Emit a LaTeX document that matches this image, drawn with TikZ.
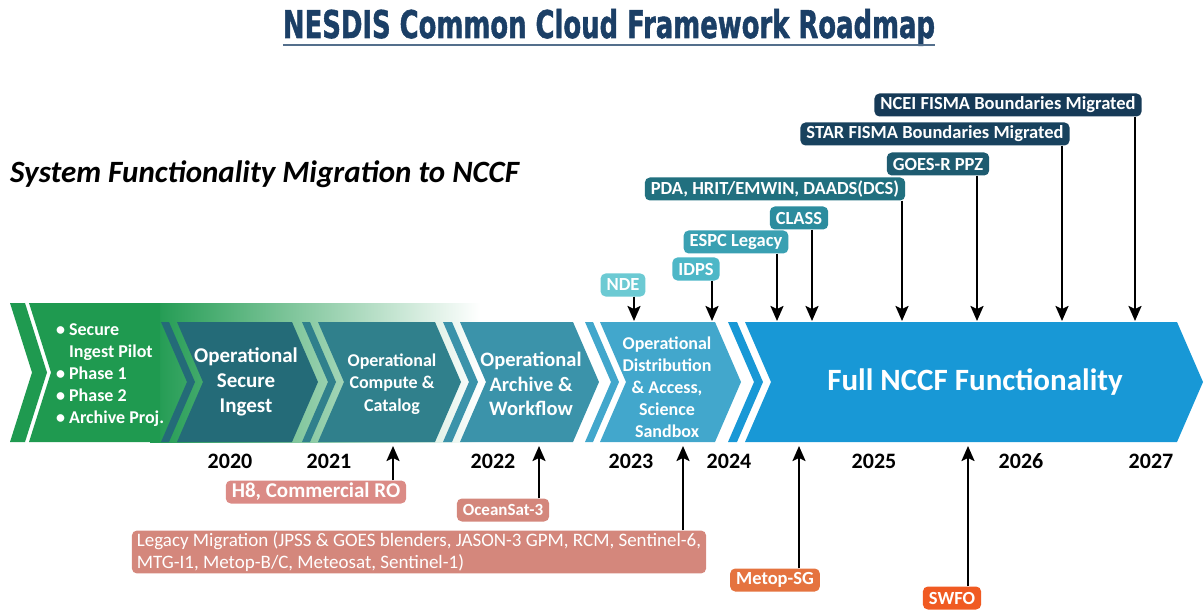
\documentclass[tikz,border=0pt]{standalone}
\usepackage{fontspec}
\usepackage{graphicx}
\setmainfont{Carlito}
\newfontfamily\headfont[BoldFeatures={FakeBold=1.5}]{DejaVu Sans Condensed}
\usetikzlibrary{arrows.meta, positioning}

\definecolor{titleblue}{HTML}{1B3F66}
\definecolor{stageone}{HTML}{1F9A50}
\definecolor{stagetwo}{HTML}{246B78}
\definecolor{stagethree}{HTML}{30808C}
\definecolor{stagefour}{HTML}{3B93AA}
\definecolor{stagefive}{HTML}{42A7CC}
\definecolor{stagesix}{HTML}{1898D6}
\definecolor{tagnde}{HTML}{6CCAD3}
\definecolor{tagidps}{HTML}{4DB7C7}
\definecolor{tagespc}{HTML}{3AA0B2}
\definecolor{tagclass}{HTML}{2C8C9E}
\definecolor{tagpda}{HTML}{21707F}
\definecolor{taggoes}{HTML}{1E5B70}
\definecolor{tagstar}{HTML}{18425E}
\definecolor{tagncei}{HTML}{163A57}
\definecolor{tagpink}{HTML}{DB8B86}
\definecolor{tagsalmon}{HTML}{D4877C}
\definecolor{tagorange}{HTML}{E5733F}
\definecolor{tagred}{HTML}{F05A22}

\begin{document}
\begin{tikzpicture}[x=1pt, y=-1pt,
    tag/.style={rounded corners=5pt, text=white, inner xsep=6pt, inner ysep=2pt, minimum height=23pt,
      font=\fontsize{18.5}{18.5}\selectfont\bfseries},
    stagetext/.style={text=white, align=center},
    yearlbl/.style={font=\fontsize{22}{22}\selectfont\bfseries},
    pin/.style={line width=2.2pt, -{Stealth[length=15pt, width=13pt, inset=3pt]}}]
  \useasboundingbox (0,0) rectangle (1204,612);
  \newcommand\chevron[3]{\fill[#3] (#1,322) -- (#2,322) -- ({#2+26},382) -- (#2,442) -- (#1,442) -- ({#1+26},382) -- cycle;}

  % title
  \node[anchor=base, inner sep=0, text=titleblue] (title) at (609,38)
    {\resizebox{652pt}{29pt}{\headfont\bfseries NESDIS Common Cloud Framework Roadmap}};
  \draw[titleblue!75, line width=1.5pt] ([yshift=-7pt]title.base west) -- ([yshift=-7pt]title.base east);

  \node[anchor=west, inner sep=0, font=\fontsize{31}{31}\selectfont\bfseries\itshape] (subtitle) at (10,174)
    {System Functionality Migration to NCCF};

  % green start, fading out to the right
  \shade[left color=stageone, right color=white] (150,303) rectangle (480,442);
  \fill[stageone] (29,303) -- (160,303) -- (160,442) -- (29,442) -- (51,372.5) -- cycle;
  \fill[stageone] (10,303) -- (25,303) -- (47,372.5) -- (25,442) -- (10,442) -- (32,372.5) -- cycle;

  % stripe + body for each stage
  \foreach \sa/\sb/\ba/\bb/\col in {161/169/177/292/stagetwo, 302/310/318/435/stagethree,
      443/452/460/573/stagefour, 585/593/600/715/stagefive, 728/737/745/1177/stagesix}{
    \chevron{\sa}{\sb}{\col}
    \chevron{\ba}{\bb}{\col}
  }

  \node[anchor=west, text=white, inner sep=0, font=\fontsize{18}{22}\selectfont\bfseries] (s1) at (56,375)
    {\begin{tabular}{@{}l@{\hspace{4pt}}l@{}}\textbullet & Secure\\ & Ingest Pilot\\ \textbullet & Phase 1\\
      \textbullet & Phase 2\\ \textbullet & Archive Proj.\end{tabular}};
  \node[stagetext, font=\fontsize{21}{25}\selectfont\bfseries] (s2) at (246,382) {Operational\\Secure\\Ingest};
  \node[stagetext, font=\fontsize{18}{22.5}\selectfont\bfseries] (s3) at (392,384) {Operational\\Compute \&\\Catalog};
  \node[stagetext, font=\fontsize{20.5}{24.5}\selectfont\bfseries] (s4) at (531,384) {Operational\\Archive \&\\Workflow};
  \node[stagetext, font=\fontsize{18}{22}\selectfont\bfseries] (s5) at (667,387)
    {Operational\\Distribution\\\& Access,\\Science\\Sandbox};
  \node[stagetext, font=\fontsize{31}{31}\selectfont\bfseries] (s6) at (975,382) {Full NCCF Functionality};

  % years under the band
  \foreach \yr/\px in {2020/230, 2021/329, 2022/493, 2023/631, 2024/729, 2025/874, 2026/1021, 2027/1151}{
    \node[yearlbl] (y\yr) at (\px,461) {\yr};
  }

  % systems moving in from above
  \foreach \name/\px/\py/\txt/\col/\ax in {nde/623/285/NDE/tagnde/634, idps/696/269/IDPS/tagidps/712,
      espc/736/242/ESPC Legacy/tagespc/777, class/799/218/CLASS/tagclass/812,
      pda/775/189/{PDA, HRIT/EMWIN, DAADS(DCS)}/tagpda/902, goes/938/164/GOES-R PPZ/taggoes/977,
      star/935/134/STAR FISMA Boundaries Migrated/tagstar/1062,
      ncei/1008/105/NCEI FISMA Boundaries Migrated/tagncei/1135}{
    \node[tag, fill=\col] (\name) at (\px,\py) {\txt};
    \coordinate (\name-tip) at (\ax,321);
    \draw[pin] (\name.south -| \name-tip) -- (\name-tip);
  }

  % missions coming in from below
  \node[tag, fill=tagpink, font=\fontsize{21}{21}\selectfont\bfseries] (h8) at (316,492) {H8, Commercial RO};
  \node[tag, fill=tagsalmon, font=\fontsize{17}{17}\selectfont\bfseries] (ocean) at (503,510) {OceanSat-3};
  \node[tag, fill=tagsalmon, align=left, inner xsep=5pt, font=\fontsize{19}{22}\selectfont] (legacy) at (419,552)
    {Legacy Migration (JPSS \& GOES blenders, JASON-3 GPM, RCM, Sentinel-6,\\MTG-I1, Metop-B/C, Meteosat, Sentinel-1)};
  \node[tag, fill=tagorange] (metop) at (775,580) {Metop-SG};
  \node[tag, fill=tagred] (swfo) at (952,598) {SWFO};

  \foreach \name/\ax in {h8/393, ocean/539, legacy/683, metop/799, swfo/968}{
    \coordinate (\name-tip) at (\ax,446);
    \draw[pin] (\name.north -| \name-tip) -- (\name-tip);
  }
\end{tikzpicture}
\end{document}
